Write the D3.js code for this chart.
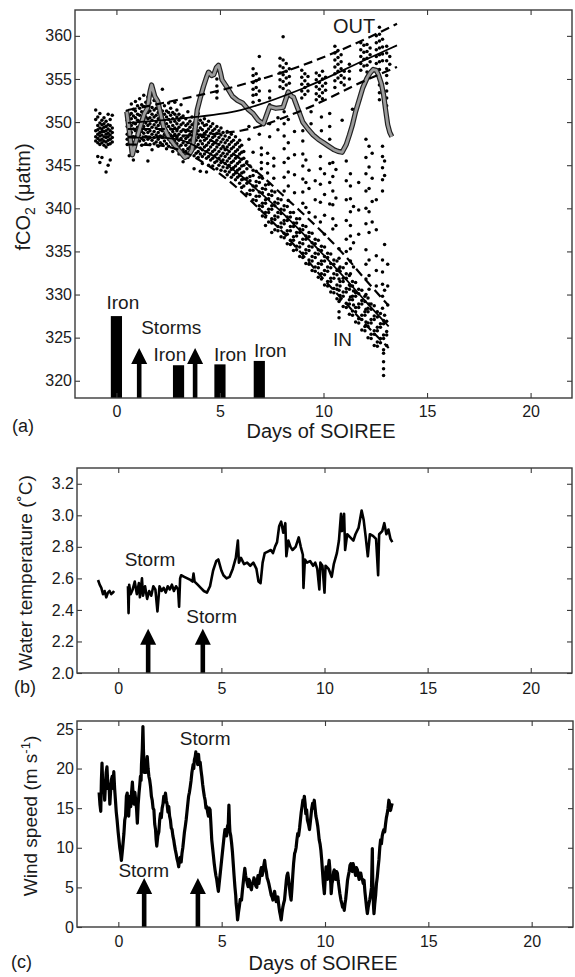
<!DOCTYPE html>
<html><head><meta charset="utf-8">
<script src="https://cdn.jsdelivr.net/npm/d3@7"></script>
<style>
body{margin:0;background:#fff}
svg{display:block}
text{font-family:"Liberation Sans",Arial,Helvetica,sans-serif;fill:#1a1a1a}
</style>
</head><body>
<svg id="chart" width="575" height="977"></svg>
<script>
// ---------- tick labels ----------
const xTicks = [0, 5, 10, 15, 20];
const fco2Ticks = [320, 325, 330, 335, 340, 345, 350, 355, 360];
const tempTicks = [2.0, 2.2, 2.4, 2.6, 2.8, 3.0, 3.2];
const windTicks = [0, 5, 10, 15, 20, 25];

// ---------- panel (a): iron additions and storms ----------
const ironDays = [0, 3, 5, 6.9];
const ironTops = [327.5, 321.8, 321.9, 322.3];
const stormDaysA = [1.1, 3.8];
const stormTipA = 323.8;

// ---------- panel (a): fit lines [day, fCO2] ----------
const outUpper = [[0.55,351.4],[3,352.6],[6,354.3],[9,356.6],[12,359.6],[13.55,361.4]];
const outFit   = [[0.55,349.9],[3,350.4],[6,351.4],[9,353.9],[12,357.2],[13.55,358.9]];
const outLower = [[0.55,348.3],[3,348.4],[6,349.0],[9,351.4],[12,354.8],[13.55,356.4]];
const inUpper  = [[0.55,349.2],[3,349.2],[4,348.5],[5,347.3],[6,345.7],[7,343.8],[8,341.6],[9,339.4],[10,337.1],[11,334.6],[12,331.8],[13.15,328.7]];
const inFit    = [[0.55,348.2],[2,348.2],[3,348.0],[4,347.0],[5,345.6],[6,343.8],[7,341.7],[8,339.5],[9,337.1],[10,334.6],[11,332.0],[12,329.3],[13.15,326.3]];
const inLower  = [[0.55,347.4],[2,347.3],[3,346.8],[4,345.6],[5,344.0],[6,342.0],[7,339.7],[8,337.3],[9,334.6],[10,331.8],[11,329.2],[12,326.6],[13.15,323.8]];

// ---------- panel (a): grey trace [day, fCO2] ----------
const fco2Trace = [[0.5,351.2],[0.62,349.0],[0.77,346.2],[0.95,347.8],[1.16,349.5],[1.35,351.0],[1.5,351.6],[1.62,353.5],[1.7,354.3],[1.85,353.0],[2.0,352.4],[2.15,350.8],[2.27,349.5],[2.45,348.6],[2.6,348.0],[2.85,347.2],[3.1,346.5],[3.3,345.9],[3.5,346.2],[3.65,346.8],[3.8,349.2],[3.9,351.4],[4.05,352.8],[4.2,354.1],[4.35,355.2],[4.45,355.8],[4.6,355.4],[4.7,355.5],[4.82,356.3],[4.93,356.6],[5.02,355.8],[5.1,354.9],[5.35,354.0],[5.6,353.0],[5.85,352.5],[6.1,352.2],[6.35,351.5],[6.6,351.0],[6.85,350.2],[7.1,349.8],[7.25,350.8],[7.4,351.8],[7.7,351.6],[8.05,351.7],[8.3,353.5],[8.45,353.0],[8.55,352.9],[8.8,351.3],[9.0,350.0],[9.25,349.2],[9.5,348.5],[9.75,348.0],[10.0,347.6],[10.25,347.2],[10.5,346.8],[10.7,346.6],[10.9,346.5],[11.1,347.4],[11.25,348.5],[11.4,349.7],[11.55,351.2],[11.75,352.8],[11.9,354.0],[12.1,355.1],[12.25,355.7],[12.4,356.1],[12.55,356.0],[12.65,355.5],[12.8,354.4],[12.9,353.2],[13.0,351.4],[13.1,349.7],[13.2,348.8],[13.3,348.3]];

// ---------- panel (a): fCO2 samples, columns [day, values...] ----------
const fco2Pre = [
[-1.0,351.4,350.3,349.0,348.3,347.8],
[-0.9,350.6,349.6,349.1,348.6,348.1,347.6,346.0],
[-0.8,351.0,349.9,349.3,348.8,348.4,347.9,347.4,345.3],
[-0.7,350.2,349.7,349.2,348.9,348.5,348.0,347.6,345.9],
[-0.6,350.5,349.8,349.4,348.9,348.3,347.8,347.3],
[-0.5,350.1,349.5,349.0,348.6,348.2,347.7,347.1,344.2],
[-0.4,350.9,349.7,349.2,348.7,348.3,347.9,347.4,345.0],
[-0.3,350.3,349.6,349.0,348.5,348.0,347.5,345.6],
[-0.2,350.8,349.3,348.8,348.2,347.7]
];
const fco2Early = [
[0.52,351.3,350.2,349.5,348.6,348.0,347.4],
[0.62,350.8,349.9,349.1,348.4,347.7,346.1],
[0.72,352.1,351.0,350.4,349.6,348.8,348.1,347.3],
[0.82,351.5,350.7,349.9,349.2,348.3,347.6,345.6],
[0.92,352.4,351.3,350.5,349.8,349.0,348.2,347.5],
[1.02,351.9,350.9,350.2,349.4,348.7,347.9,346.6],
[1.12,352.7,351.6,350.8,350.1,349.3,348.5,347.8],
[1.22,352.0,351.2,350.4,349.7,348.9,348.1,347.3],
[1.32,353.1,351.8,351.0,350.3,349.5,348.7,347.9],
[1.42,352.3,351.4,350.6,349.9,349.1,348.3,347.5],
[1.52,352.9,351.9,351.1,350.4,349.6,348.8,348.0,345.5],
[1.62,352.2,351.3,350.5,349.8,349.0,348.2,347.4],
[1.72,351.7,350.9,350.2,349.4,348.6,347.9,346.8],
[1.82,352.5,351.4,350.6,349.7,348.9,348.2,347.5],
[1.92,351.6,350.8,350.0,349.3,348.5,347.7],
[2.02,352.1,351.1,350.4,349.6,348.8,348.0,347.2],
[2.12,351.5,350.7,349.9,349.1,348.4,347.6],
[2.22,353.8,351.3,350.5,349.7,349.0,348.2,347.4],
[2.32,351.9,350.9,350.2,349.4,348.6,347.8],
[2.42,351.3,350.6,349.8,349.0,348.3,347.5,346.9],
[2.52,352.2,351.1,350.3,349.5,348.7,348.0,347.2],
[2.62,351.6,350.8,350.0,349.2,348.5,347.7],
[2.72,351.1,350.4,349.6,348.9,348.1,347.4,346.6],
[2.82,352.3,350.9,350.1,349.3,348.6,347.8,347.0],
[2.92,351.4,350.6,349.8,349.0,348.2,347.5],
[3.02,350.9,350.2,349.4,348.6,347.9,347.1,346.3],
[3.12,352.0,350.5,349.7,348.9,348.1,347.3,346.6],
[3.22,350.7,349.9,349.1,348.4,347.6,346.8,345.4]
];
const fco2Mid = [
[3.35,350.4,349.6,348.9,348.1,347.3,346.6],
[3.45,351.2,349.8,349.1,348.3,347.6,346.9,345.9],
[3.55,350.1,349.4,348.6,347.9,347.1,346.4],
[3.65,350.6,349.7,348.9,348.1,347.4,346.7],
[3.75,349.9,349.2,348.4,347.6,346.9,346.1,344.6],
[3.85,350.3,349.5,348.7,347.9,347.1,346.4],
[3.95,351.0,349.8,349.0,348.2,347.4,346.6,345.9],
[4.05,350.2,349.3,348.5,347.8,347.0,346.3,344.3],
[4.15,349.9,349.1,348.3,347.5,346.8,346.0,345.2],
[4.25,350.4,349.6,348.7,347.9,347.1,346.3],
[4.35,349.7,348.9,348.1,347.3,346.6,345.8,344.2],
[4.45,350.1,349.2,348.4,347.6,346.8,346.0,345.0],
[4.55,349.5,348.7,347.9,347.1,346.3,345.6],
[4.65,349.8,349.0,348.2,347.4,346.6,345.8,344.9],
[4.75,349.2,348.4,347.6,346.8,346.1,345.3],
[4.85,355.0,354.2,353.5,352.8,349.5,348.7,347.9,347.1,346.3,345.5,344.6],
[4.95,349.0,348.2,347.4,346.6,345.8,345.0],
[5.05,349.3,348.5,347.7,346.9,346.1,345.3,344.4],
[5.15,348.8,348.0,347.2,346.4,345.6,344.8],
[5.25,348.4,347.6,346.8,346.0,345.2,344.3],
[5.35,348.9,347.9,347.1,346.3,345.5,344.7,343.9],
[5.45,348.2,347.4,346.6,345.8,345.0,344.2],
[5.55,348.6,347.7,346.9,346.1,345.3,344.5,343.6],
[5.65,347.9,347.1,346.3,345.5,344.7,343.9],
[5.75,348.3,347.4,346.6,345.8,344.9,344.1,343.3],
[5.85,347.6,346.8,346.0,345.2,344.4,343.6],
[5.95,347.9,347.1,346.3,345.4,344.6,343.8,342.9],
[6.05,347.3,346.5,345.7,344.9,344.1,343.3,342.4],
[6.15,346.6,345.8,345.0,344.2,343.4,342.6]
];
const fco2In = [
[6.3,345.4,344.6,343.5,342.9,341.7],
[6.45,344.9,343.7,343.2,342.1,341.6],
[6.6,346.5,344.4,343.8,342.6,342.1,341.0],
[6.75,344.3,343.1,342.6,341.4,340.9],
[6.9,343.6,343.0,341.9,341.4,340.3,339.9],
[7.05,343.5,342.3,341.8,340.6,340.2,339.1],
[7.2,342.7,342.2,341.0,340.6,339.5,339.0,338.0],
[7.35,342.8,341.6,341.1,339.9,339.5,338.4],
[7.5,342.0,341.5,340.3,339.9,338.8,338.3,337.2],
[7.65,341.9,340.7,340.3,339.1,338.7,337.5],
[7.8,341.1,340.6,339.5,339.0,337.9,337.4],
[7.95,341.0,339.9,339.4,338.3,337.8,336.7],
[8.1,340.3,339.8,338.6,338.2,337.1,336.6],
[8.25,340.2,339.0,338.6,337.4,337.0,335.9],
[8.4,339.5,339.0,337.9,337.4,336.3,335.8],
[8.55,339.5,338.3,337.9,336.7,336.3,335.1],
[8.7,338.8,338.3,337.2,336.8,335.6,335.2],
[8.85,338.8,337.6,337.2,336.0,335.5,334.4],
[9.0,338.0,337.5,336.4,335.9,334.8,334.3],
[9.15,337.9,336.8,336.4,335.2,334.8,333.6],
[9.3,337.2,336.7,335.6,335.1,334.0,333.5],
[9.45,337.1,336.0,335.5,334.4,333.9,332.8],
[9.6,336.4,335.9,334.8,334.3,333.2,332.7],
[9.75,336.3,335.2,334.7,333.6,333.1,332.0],
[9.9,335.6,335.1,333.9,333.5,332.4,331.8],
[10.05,335.5,334.4,333.9,332.8,332.3,331.1],
[10.2,334.8,334.3,333.2,332.7,331.5,331.0],
[10.35,334.7,333.6,333.1,331.9,331.5,330.3],
[10.5,334.0,333.5,332.4,331.9,330.7,330.2],
[10.65,333.9,332.8,332.3,331.1,330.6,329.5],
[10.8,333.2,332.7,331.5,331.0,329.9,329.4],
[10.95,333.1,331.9,331.5,330.3,329.8,328.6],
[11.1,332.4,331.9,330.7,330.3,329.0,328.5],
[11.25,332.2,331.1,330.6,329.4,328.9,327.7],
[11.4,331.5,331.0,329.8,329.4,328.1,327.6],
[11.55,331.4,330.2,329.8,328.5,328.0,326.8],
[11.7,330.6,330.1,328.9,328.5,327.2,326.7],
[11.85,330.5,329.3,328.9,327.6,327.1,325.9],
[12.0,329.8,329.2,328.0,327.6,326.3,325.8],
[12.15,329.6,328.4,328.0,326.7,326.3,325.0],
[12.3,328.9,328.3,327.1,326.7,325.4,324.9],
[12.45,328.7,327.5,327.1,325.8,325.4,324.1],
[12.6,328.0,327.4,326.2,325.8,324.5,324.0],
[12.75,327.8,326.6,326.2,324.9,324.4],
[12.9,327.0,326.6,325.3,324.9,323.6,323.2,322.2,321.4,320.6],
[13.05,326.9,325.7,325.3,324.1]
];
const fco2Between = [
[6.4,349.5,348.0],[6.9,350.2,348.6],[7.4,349.8,348.3],[7.8,350.5,349.1],
[7.0,347.0,346.2,345.3,344.6],
[7.3,346.4,345.2,344.1],
[7.6,345.8,344.9,343.5],
[8.1,351.2,349.8,348.4,346.9,345.3,343.6,342.0],
[8.3,350.3,347.6,345.8,344.2,342.6,340.9],
[8.6,348.9,346.2,343.9,341.8],
[9.0,349.0,347.8,346.3,344.9,343.4,341.9,340.6],
[9.15,345.6,343.0,340.1],
[9.3,344.4,342.3,339.5],
[9.4,351.2,349.8],
[9.6,343.2,341.0,339.0],
[9.85,346.0,344.6,342.8,340.7,338.4],
[9.9,350.6,349.0],
[10.05,344.0,341.6,339.2,337.0],
[10.3,351.0,349.5,348.0,345.2,343.0,340.5],
[10.45,346.8,345.3,343.7,342.0,340.4,338.8,337.6],
[10.6,344.5,341.2,338.0],
[10.75,335.3,334.2,333.0,331.8,330.5,329.2,328.0,327.3],
[10.9,350.2],
[11.1,345.5,343.2,341.0,338.6,336.4,335.0,333.6],
[11.3,344.0,342.6,341.1,339.6,338.0,336.8,335.3,333.9,332.4,331.0,329.7],
[11.4,351.5],
[11.45,340.2,336.0,333.2,330.4,328.8],
[11.7,343.0,339.8,337.0],
[12.05,348.0,345.9,344.0,342.0,340.0,338.2,335.2,333.5,331.8,330.0,328.3,326.8],
[12.2,347.2,344.8,342.3,339.6,337.2,334.0,332.2,330.6,328.9],
[12.35,346.4,343.5,340.8,338.4],
[12.55,341.0,337.5,334.5,332.8,331.0],
[12.85,347.2,346.0,344.7,343.3,342.0,334.0,332.6,331.2,329.8,328.4],
[12.95,345.5,343.8,335.8,330.5,327.6],
[13.1,333.5,331.0,328.8]
];
const fco2Out = [
[6.6,356.2,355.4,354.6,353.8,353.1,352.3],
[6.75,355.6,354.8,354.0,353.2],
[6.9,357.6,355.0,353.6,352.5],
[7.4,353.6,352.8,352.0],
[7.9,357.4,356.5,355.7,354.9,354.1],
[8.05,359.9,357.2,356.3,355.5,354.7,353.9],
[8.2,356.8,355.9,355.1,354.3],
[8.35,356.2,355.3,354.5],
[8.95,356.0,355.2,354.4,353.6,352.8],
[9.1,355.6,354.8,354.0,353.2],
[9.25,355.3,354.4,353.6],
[9.65,355.7,354.9,354.1,353.3,352.6],
[9.8,355.4,354.6,353.8,353.0],
[9.95,355.9,355.0,354.2,353.4,352.7],
[10.1,355.2,354.5,353.7],
[10.55,358.8,358.0,357.2,356.4,355.6,354.8,354.0],
[10.7,358.3,357.5,356.7,355.9,355.1],
[10.85,357.8,357.0,356.2,355.4,354.6],
[11.0,355.9,355.1,354.3],
[11.25,356.7,355.9,355.0],
[11.8,359.2,358.4,357.6,356.8,356.0],
[11.95,358.9,358.1,357.3,356.5],
[12.1,359.0,358.2,357.4,356.6,355.8],
[12.25,358.6,357.8,357.0],
[12.55,360.0,359.2,358.4,357.6,356.8,356.0],
[12.7,361.0,360.2,359.4,358.6,357.8,357.0,356.1,355.2,354.3,353.4,352.6],
[12.85,359.6,358.7,357.9,357.1],
[13.05,358.8,358.0,357.1,356.2,355.4,354.5,353.6,352.8,351.9],
[13.2,357.6,356.7]
];

// ---------- panel (b): water temperature [day, degC] ----------
const tempSeg1 = [[-0.98,2.59],[-0.9,2.56],[-0.82,2.54],[-0.74,2.50],[-0.66,2.52],[-0.58,2.48],[-0.5,2.51],[-0.42,2.52],[-0.34,2.50],[-0.26,2.51],[-0.2,2.52]];
const tempSeg2 = [[0.47,2.55],[0.5,2.38],[0.53,2.56],[0.6,2.50],[0.7,2.53],[0.8,2.58],[0.9,2.50],[1.0,2.57],[1.05,2.48],[1.15,2.60],[1.2,2.49],[1.3,2.55],[1.4,2.47],[1.5,2.52],[1.6,2.49],[1.7,2.55],[1.8,2.53],[1.9,2.39],[2.0,2.55],[2.1,2.52],[2.2,2.54],[2.3,2.51],[2.4,2.55],[2.5,2.53],[2.6,2.56],[2.7,2.52],[2.8,2.55],[2.9,2.53],[2.95,2.42],[3.0,2.60],[3.05,2.62],[3.2,2.61],[3.35,2.60],[3.5,2.59],[3.6,2.58],[3.65,2.63],[3.7,2.58],[3.85,2.56],[4.0,2.54],[4.15,2.52],[4.3,2.51],[4.45,2.55],[4.6,2.65],[4.75,2.71],[4.85,2.72],[5.0,2.65],[5.1,2.62],[5.25,2.60],[5.4,2.61],[5.55,2.66],[5.7,2.73],[5.8,2.84],[5.85,2.70],[5.95,2.73],[6.1,2.69],[6.25,2.70],[6.4,2.68],[6.55,2.70],[6.7,2.66],[6.8,2.58],[6.9,2.57],[7.0,2.70],[7.1,2.76],[7.25,2.77],[7.4,2.78],[7.5,2.76],[7.6,2.80],[7.7,2.83],[7.8,2.93],[7.9,2.96],[8.0,2.89],[8.1,2.95],[8.15,2.74],[8.25,2.84],[8.35,2.80],[8.45,2.78],[8.6,2.80],[8.75,2.86],[8.85,2.80],[8.95,2.75],[8.98,2.54],[9.05,2.72],[9.15,2.70],[9.3,2.71],[9.45,2.68],[9.55,2.70],[9.65,2.66],[9.75,2.53],[9.8,2.70],[9.9,2.68],[10.0,2.51],[10.05,2.68],[10.2,2.66],[10.35,2.61],[10.45,2.69],[10.6,2.76],[10.7,2.84],[10.8,3.01],[10.85,2.90],[10.95,3.01],[11.0,2.78],[11.1,2.88],[11.25,2.86],[11.4,2.84],[11.5,2.88],[11.65,2.92],[11.8,3.03],[11.9,2.97],[12.0,2.86],[12.1,2.74],[12.2,2.88],[12.35,2.87],[12.5,2.85],[12.6,2.62],[12.65,2.88],[12.8,2.90],[12.9,2.95],[13.0,2.88],[13.1,2.91],[13.2,2.85],[13.29,2.83]];
const stormDaysB = [1.45, 4.1];
const stormTipB = 2.28;

// ---------- panel (c): wind speed [day, m/s] ----------
const wind = [[-0.93,17],[-0.89,15.5],[-0.85,14.6],[-0.82,18.5],[-0.79,20.7],[-0.75,17.5],[-0.7,18],[-0.66,16],[-0.63,17.6],[-0.59,19.5],[-0.55,20.2],[-0.5,17.5],[-0.45,18],[-0.41,15.5],[-0.38,16.9],[-0.34,18.5],[-0.3,19],[-0.26,17.5],[-0.22,19.6],[-0.18,17.5],[-0.14,16],[-0.1,14.5],[-0.06,13.5],[-0.01,12],[0.03,11],[0.07,10],[0.11,9.3],[0.15,8.4],[0.21,10],[0.27,11.8],[0.31,13.5],[0.35,14],[0.39,16.5],[0.43,16.9],[0.47,15],[0.5,14],[0.55,16.5],[0.6,15.2],[0.64,17],[0.68,18.3],[0.72,16.5],[0.76,15.5],[0.8,17],[0.84,16],[0.88,15],[0.92,13.1],[0.96,15.5],[1.0,16.9],[1.04,18],[1.07,19],[1.1,18.5],[1.12,20.5],[1.16,22.5],[1.19,25.3],[1.22,22],[1.24,21],[1.26,19.5],[1.28,20.2],[1.31,21],[1.34,19.5],[1.37,20.5],[1.4,21.5],[1.44,20],[1.48,19],[1.52,18.5],[1.56,17.7],[1.6,16.5],[1.64,16],[1.68,15],[1.72,14.8],[1.76,13],[1.8,12.3],[1.83,11],[1.86,10.2],[1.91,11.5],[1.96,12],[2.0,13.5],[2.04,14.3],[2.08,13.8],[2.12,15],[2.16,15.5],[2.2,16.5],[2.24,15.8],[2.28,16.9],[2.32,16],[2.36,15.5],[2.4,14.5],[2.44,15.2],[2.48,14],[2.52,13.5],[2.56,12.5],[2.6,12.3],[2.64,11.5],[2.68,11],[2.72,10.3],[2.76,9.7],[2.8,9.2],[2.84,8.6],[2.88,8.2],[2.92,7.6],[2.96,8.5],[3.0,8.8],[3.04,8.2],[3.08,9.3],[3.12,10],[3.16,11],[3.2,12],[3.24,12.7],[3.28,13.5],[3.32,14.5],[3.36,15.5],[3.4,16.5],[3.44,17],[3.48,17.7],[3.52,18.5],[3.56,19.5],[3.59,20],[3.62,20.5],[3.65,20],[3.68,21.1],[3.72,21.5],[3.75,22.1],[3.78,21],[3.8,21.5],[3.84,20.5],[3.88,21.8],[3.92,20.5],[3.96,20.8],[4.0,19.8],[4.04,19],[4.08,18],[4.12,17.2],[4.16,16.5],[4.2,16],[4.24,15],[4.28,15.2],[4.32,14.5],[4.36,14],[4.4,15],[4.44,14.8],[4.48,13],[4.52,11],[4.56,10],[4.6,9],[4.64,8],[4.68,7.2],[4.72,6.5],[4.76,6],[4.8,5.2],[4.84,4.5],[4.88,5.5],[4.92,6.5],[4.96,7.5],[5.0,8.5],[5.04,9.5],[5.08,10.5],[5.12,11.5],[5.16,12.3],[5.2,11.8],[5.24,11.5],[5.28,12.7],[5.32,13],[5.35,15.4],[5.38,13],[5.4,12],[5.44,11.5],[5.48,10.6],[5.52,9.5],[5.56,8],[5.6,6.5],[5.64,5.1],[5.68,4],[5.7,3],[5.74,2],[5.77,0.9],[5.81,1.8],[5.85,2.5],[5.9,3.5],[5.96,3.4],[6.0,4.5],[6.04,5.5],[6.08,6.5],[6.12,7.4],[6.16,6.5],[6.2,6],[6.24,5.5],[6.28,5.1],[6.32,6],[6.36,5.8],[6.4,5],[6.44,4.7],[6.48,5.5],[6.52,5.5],[6.56,6.2],[6.6,5.9],[6.65,5.2],[6.7,5],[6.73,6],[6.76,6.5],[6.8,5.5],[6.84,6.3],[6.88,7],[6.92,7.5],[6.96,6.5],[7.0,7],[7.04,7.8],[7.08,8.4],[7.12,7.5],[7.16,7],[7.2,6.2],[7.24,5.9],[7.28,5.5],[7.32,5],[7.36,4.5],[7.4,4],[7.44,3.8],[7.48,3.4],[7.52,4],[7.56,4.5],[7.6,3.8],[7.64,3.2],[7.68,3.5],[7.72,3.8],[7.76,2.8],[7.8,2],[7.84,1.5],[7.88,0.9],[7.92,1.8],[7.96,2.5],[8.0,3],[8.04,3.4],[8.08,4.5],[8.13,5.9],[8.16,6.5],[8.2,6.8],[8.24,6],[8.28,5],[8.32,4],[8.36,3.4],[8.4,4.8],[8.44,6.5],[8.48,8],[8.53,9.3],[8.56,9.5],[8.6,10],[8.64,11],[8.68,11.8],[8.72,11.5],[8.77,12.5],[8.81,13.5],[8.85,14.5],[8.89,15.2],[8.93,16],[8.96,15.5],[9.0,16.5],[9.04,15.5],[9.07,14.3],[9.11,14.8],[9.15,13.5],[9.2,13],[9.25,12.3],[9.28,13],[9.32,14],[9.36,15],[9.4,15.6],[9.44,15],[9.48,16],[9.52,15],[9.56,14],[9.6,13.5],[9.65,12.7],[9.68,12],[9.72,11],[9.76,10.5],[9.8,9.7],[9.84,8.5],[9.88,7],[9.92,5.5],[9.97,4.2],[10.01,6],[10.05,7.6],[10.09,7],[10.12,6],[10.16,7.5],[10.2,8.4],[10.23,7.5],[10.25,6.5],[10.28,5.5],[10.3,4.2],[10.34,5.5],[10.38,6],[10.42,7],[10.45,7.2],[10.49,6.5],[10.52,6],[10.56,7],[10.6,6.8],[10.64,5.8],[10.68,5],[10.72,4.2],[10.77,3.4],[10.81,3],[10.85,2.5],[10.89,2.8],[10.93,2.1],[10.97,3],[11.0,3.5],[11.05,4.8],[11.09,5.9],[11.13,6.5],[11.17,7],[11.21,7.8],[11.25,8],[11.29,7.2],[11.32,7],[11.36,8],[11.4,7.6],[11.44,7],[11.48,6.5],[11.52,7.5],[11.57,7.2],[11.61,6.5],[11.65,6],[11.69,6.8],[11.73,6.8],[11.77,6.2],[11.81,6],[11.85,5.5],[11.89,5.9],[11.93,4.5],[11.97,3.5],[12.01,2.5],[12.05,1.7],[12.09,2.5],[12.13,3],[12.17,3.5],[12.21,4.2],[12.25,5],[12.29,9.9],[12.31,6],[12.33,4],[12.35,2.5],[12.37,1.7],[12.41,3],[12.45,4],[12.49,5.5],[12.53,6.3],[12.57,7.5],[12.61,8.5],[12.65,10],[12.69,11],[12.73,10.5],[12.77,11.5],[12.81,12],[12.85,12.3],[12.89,12],[12.93,13],[12.97,13.8],[13.01,14.3],[13.05,15],[13.09,16],[13.13,15.5],[13.17,14.7],[13.21,15.2],[13.25,15.6]];
const stormDaysC = [1.25, 3.85];
const stormTipC = 6.2;

// ---------- drawing ----------
const svg = d3.select("#chart");
const FRAME = "#3a3a3a";

function makePanel(o) {
  const x = d3.scaleLinear().domain([-2, 22]).range([o.left, o.right]);
  const y = d3.scaleLinear().domain(o.yDomain).range([o.bottom, o.top]);
  const clipId = "clip-" + o.name;
  svg.append("clipPath").attr("id", clipId).append("rect")
    .attr("x", o.left).attr("y", o.top).attr("width", o.right - o.left).attr("height", o.bottom - o.top);
  const plot = svg.append("g").attr("clip-path", `url(#${clipId})`);

  const axes = svg.append("g");
  axes.append("g").attr("transform", `translate(0,${o.bottom})`)
    .call(d3.axisBottom(x).tickValues(xTicks).tickSizeInner(-5).tickSizeOuter(0).tickPadding(o.xPad));
  axes.append("g").attr("transform", `translate(0,${o.top})`)
    .call(d3.axisTop(x).tickValues(xTicks).tickSizeInner(-5).tickSizeOuter(0).tickFormat(""));
  axes.append("g").attr("transform", `translate(${o.left},0)`)
    .call(d3.axisLeft(y).tickValues(o.yTicks).tickSizeInner(-5).tickSizeOuter(0).tickPadding(3).tickFormat(o.yFmt));
  axes.append("g").attr("transform", `translate(${o.right},0)`)
    .call(d3.axisRight(y).tickValues(o.yTicks).tickSizeInner(-5).tickSizeOuter(0).tickFormat(""));
  axes.selectAll(".domain").remove();
  axes.selectAll(".tick line").attr("stroke", FRAME).attr("stroke-width", 1.1);
  axes.selectAll(".tick text").attr("font-size", 16).attr("fill", "#1a1a1a")
    .attr("font-family", '"Liberation Sans",Arial,sans-serif');
  axes.append("rect").attr("x", o.left).attr("y", o.top)
    .attr("width", o.right - o.left).attr("height", o.bottom - o.top)
    .attr("fill", "none").attr("stroke", FRAME).attr("stroke-width", 1.4);
  return {x, y, plot, axes};
}

function arrow(g, x, y, day, tip, base) {
  const cx = x(day), ty = y(tip), by = y(base);
  const hw = 8, hh = 16, sw = 2.3;
  const p = d3.path();
  p.moveTo(cx, ty);
  p.lineTo(cx + hw, ty + hh);
  p.lineTo(cx + sw, ty + hh);
  p.lineTo(cx + sw, by);
  p.lineTo(cx - sw, by);
  p.lineTo(cx - sw, ty + hh);
  p.lineTo(cx - hw, ty + hh);
  p.closePath();
  g.append("path").attr("d", p.toString()).attr("fill", "#000");
}

function label(g, x, y, txt, day, val, size) {
  g.append("text").attr("x", x(day)).attr("y", y(val))
    .attr("text-anchor", "middle").attr("font-size", size || 19).text(txt);
}

// ===== Panel (a) =====
const A = makePanel({name: "a", left: 75, right: 572, top: 10, bottom: 398,
  yDomain: [318, 363], yTicks: fco2Ticks, yFmt: d3.format("d"), xPad: 8});

const columns = [].concat(fco2Pre, fco2Early, fco2Mid, fco2In, fco2Between, fco2Out);
const pts = [];
columns.forEach(c => { for (let i = 1; i < c.length; i++) pts.push([c[0], c[i]]); });
A.plot.append("g").selectAll("circle").data(pts).join("circle")
  .attr("cx", d => A.x(d[0])).attr("cy", d => A.y(d[1])).attr("r", 1.75).attr("fill", "#000");

const traceLine = d3.line().x(d => A.x(d[0])).y(d => A.y(d[1]));
const lineA = d3.line().x(d => A.x(d[0])).y(d => A.y(d[1])).curve(d3.curveMonotoneX);
A.plot.append("path").attr("d", traceLine(fco2Trace)).attr("fill", "none")
  .attr("stroke", "#222").attr("stroke-width", 5.2).attr("stroke-linejoin", "round");
A.plot.append("path").attr("d", traceLine(fco2Trace)).attr("fill", "none")
  .attr("stroke", "#9c9c9c").attr("stroke-width", 2.8).attr("stroke-linejoin", "round");

[outFit, inFit].forEach(s => A.plot.append("path").attr("d", lineA(s)).attr("fill", "none")
  .attr("stroke", "#000").attr("stroke-width", 1.8));
[outUpper, outLower, inUpper, inLower].forEach(s => A.plot.append("path").attr("d", lineA(s)).attr("fill", "none")
  .attr("stroke", "#000").attr("stroke-width", 2.2).attr("stroke-dasharray", "9,5"));

// iron bars
const barW = A.x(0.27) - A.x(0);
A.plot.append("g").selectAll("rect").data(ironDays).join("rect")
  .attr("x", (d) => A.x(d) - barW).attr("width", 2 * barW)
  .attr("y", (d, i) => A.y(ironTops[i])).attr("height", (d, i) => A.y(318) - A.y(ironTops[i]))
  .attr("fill", "#000");
stormDaysA.forEach(d => arrow(A.plot, A.x, A.y, d, stormTipA, 318));

const annA = svg.append("g");
label(annA, A.x, A.y, "Iron", 0.31, 328.3);
label(annA, A.x, A.y, "Storms", 2.65, 325.4);
label(annA, A.x, A.y, "Iron", 2.58, 322.3);
label(annA, A.x, A.y, "Iron", 5.5, 322.3);
label(annA, A.x, A.y, "Iron", 7.43, 322.8);
label(annA, A.x, A.y, "OUT", 11.48, 360.35, 20);
label(annA, A.x, A.y, "IN", 10.92, 324.0, 19);

// ===== Panel (b) =====
const B = makePanel({name: "b", left: 77, right: 572, top: 468, bottom: 673,
  yDomain: [2.0, 3.3], yTicks: tempTicks, yFmt: d3.format(".1f"), xPad: 9.5});
const lineB = d3.line().x(d => B.x(d[0])).y(d => B.y(d[1]));
[tempSeg1, tempSeg2].forEach(s => B.plot.append("path").attr("d", lineB(s)).attr("fill", "none")
  .attr("stroke", "#000").attr("stroke-width", 2.6).attr("stroke-linejoin", "round"));
stormDaysB.forEach(d => arrow(B.plot, B.x, B.y, d, stormTipB, 2.0));
const annB = svg.append("g");
label(annB, B.x, B.y, "Storm", 1.54, 2.68);
label(annB, B.x, B.y, "Storm", 4.53, 2.315);

// ===== Panel (c) =====
const C = makePanel({name: "c", left: 77, right: 573, top: 721, bottom: 927,
  yDomain: [0, 26], yTicks: windTicks, yFmt: d3.format("d"), xPad: 8.5});
const lineC = d3.line().x(d => C.x(d[0])).y(d => C.y(d[1]));
C.plot.append("path").attr("d", lineC(wind)).attr("fill", "none")
  .attr("stroke", "#000").attr("stroke-width", 3.2).attr("stroke-linejoin", "round");
stormDaysC.forEach(d => arrow(C.plot, C.x, C.y, d, stormTipC, 0));
const annC = svg.append("g");
label(annC, C.x, C.y, "Storm", 4.2, 23.0);
label(annC, C.x, C.y, "Storm", 1.23, 6.3);

// ===== axis titles & panel letters =====
const T = svg.append("g");
T.append("text").attr("x", 321).attr("y", 438).attr("text-anchor", "middle").attr("font-size", 20).text("Days of SOIREE");
T.append("text").attr("x", 323).attr("y", 970).attr("text-anchor", "middle").attr("font-size", 20).text("Days of SOIREE");

const yl1 = T.append("text").attr("transform", "translate(30,197) rotate(-90)").attr("text-anchor", "middle").attr("font-size", 20);
yl1.append("tspan").text("fCO");
yl1.append("tspan").attr("font-size", 14).attr("dy", 5).text("2");
yl1.append("tspan").attr("dy", -5).text("\u00a0(\u03bcatm)");

T.append("text").attr("transform", "translate(32,573) rotate(-90)").attr("text-anchor", "middle")
  .attr("font-size", 19).text("Water temperature (\u02daC)");

const yl3 = T.append("text").attr("transform", "translate(37,816) rotate(-90)").attr("text-anchor", "middle").attr("font-size", 19);
yl3.append("tspan").text("Wind speed (m s");
yl3.append("tspan").attr("font-size", 13).attr("dy", -7).text("-1");
yl3.append("tspan").attr("dy", 7).text(")");

[["(a)", 12, 432], ["(b)", 14, 693], ["(c)", 11, 968]].forEach(([t, px, py]) =>
  T.append("text").attr("x", px).attr("y", py).attr("font-size", 18)
    .attr("font-family", '"Liberation Serif","Times New Roman",serif').text(t));
</script>
</body></html>
